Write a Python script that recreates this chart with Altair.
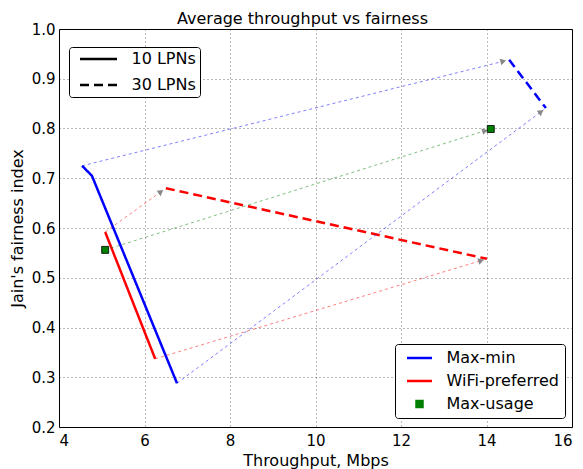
import math
import altair as alt
import pandas as pd

# ---------------- data ----------------
alg_names = ["Max-min", "WiFi-preferred", "Max-usage"]
alg_colors = ["#0000ff", "#ff0000", "#007f00"]
lpn_names = ["10 LPNs", "30 LPNs"]

maxmin_10_x = [4.54, 4.77, 6.76]
maxmin_10_y = [0.725, 0.705, 0.288]
maxmin_30_x = [14.53, 15.39]
maxmin_30_y = [0.938, 0.841]
wifi_10_x = [5.08, 6.25]
wifi_10_y = [0.592, 0.337]
wifi_30_x = [6.50, 14.01]
wifi_30_y = [0.680, 0.538]
maxusage_x = [5.08, 14.10]
maxusage_y = [0.556, 0.799]

# arrows: from the 10-LPN results to the 30-LPN results
arrow_alg = ["Max-min", "Max-min", "WiFi-preferred", "WiFi-preferred", "Max-usage"]
arrow_x0 = [4.54, 6.76, 5.08, 6.25, 5.08]
arrow_y0 = [0.725, 0.288, 0.592, 0.337, 0.556]
arrow_x1 = [14.53, 15.39, 6.50, 14.01, 14.10]
arrow_y1 = [0.938, 0.841, 0.680, 0.538, 0.799]

x_ticks = [4, 6, 8, 10, 12, 14, 16]
y_ticks = [0.2, 0.3, 0.4, 0.5, 0.6, 0.7, 0.8, 0.9, 1.0]

# ---------------- layout ----------------
W, H = 513, 398
X_DOM, Y_DOM = [4, 16], [0.2, 1.0]
SX = W / (X_DOM[1] - X_DOM[0])
SY = H / (Y_DOM[1] - Y_DOM[0])
FONT = "DejaVu Sans"

rows = []
def add(alg, lpn, xs, ys):
    for i, (x, y) in enumerate(zip(xs, ys)):
        rows.append(dict(alg=alg, lpn=lpn, x=x, y=y, i=i))

add("Max-min", "10 LPNs", maxmin_10_x, maxmin_10_y)
add("Max-min", "30 LPNs", maxmin_30_x, maxmin_30_y)
add("WiFi-preferred", "10 LPNs", wifi_10_x, wifi_10_y)
add("WiFi-preferred", "30 LPNs", wifi_30_x, wifi_30_y)
lines_df = pd.DataFrame(rows)

pts_df = pd.DataFrame(dict(alg=["Max-usage"] * len(maxusage_x), x=maxusage_x, y=maxusage_y))

arows = []
for a, x0, y0, x1, y1 in zip(arrow_alg, arrow_x0, arrow_y0, arrow_x1, arrow_y1):
    dxp = (x1 - x0) * SX
    dyp = (y1 - y0) * SY
    L = math.hypot(dxp, dyp)
    ux, uy = dxp / L, dyp / L
    hx = x1 - 7 * ux / SX
    hy = y1 - 7 * uy / SY
    ang = math.degrees(math.atan2(dxp, dyp)) % 360
    arows.append(dict(alg=a, x0=x0, y0=y0, x1=x1 - 3 * ux / SX, y1=y1 - 3 * uy / SY,
                      hx=hx, hy=hy, ang=ang))
arrows_df = pd.DataFrame(arows)

xscale = alt.Scale(domain=X_DOM, nice=False, zero=False)
yscale = alt.Scale(domain=Y_DOM, nice=False, zero=False)
xaxis = alt.Axis(values=x_ticks, title="Throughput, Mbps", format="d", labelPadding=6,
                 titleY=33, titleBaseline="middle")
yaxis = alt.Axis(values=y_ticks, title="Jain's fairness index", format=".1f", labelPadding=4,
                 titleX=-42, titleBaseline="middle")

color_scale = alt.Scale(domain=alg_names, range=alg_colors)
# legend symbol paths (unit r = sqrt(size)/2 = 6 px)
line25 = "M-2.083,0H2.083"
line37 = "M-3.083,0H3.083"
square = "M-0.5,-0.5H0.5V0.5H-0.5Z"
shape_scale = alt.Scale(domain=alg_names, range=[line25, line25, square])

leg2 = dict(title=None, orient="none", legendX=336, legendY=315,
            symbolSize=144, symbolStrokeWidth=2.5, symbolOpacity=1, symbolOffset=10.5,
            labelFontSize=16, labelOffset=19, padding=6, rowPadding=7,
            strokeColor="black", fillColor="white", cornerRadius=3,
            labelFont=FONT, labelColor="black")

leg1 = dict(title=None, orient="none", legendX=10, legendY=18,
            symbolType=line37, symbolSize=144, symbolOffset=17.5,
            symbolStrokeWidth=2.5, symbolStrokeColor="black", symbolOpacity=1,
            labelFontSize=16, labelOffset=25, padding=4, rowPadding=10,
            strokeColor="black", fillColor="white", cornerRadius=3,
            labelFont=FONT, labelColor="black")

lines = alt.Chart(lines_df).mark_line(strokeWidth=2.5).encode(
    x=alt.X("x:Q", scale=xscale, axis=xaxis),
    y=alt.Y("y:Q", scale=yscale, axis=yaxis),
    color=alt.Color("alg:N", scale=color_scale, legend=alt.Legend(**leg2)),
    strokeDash=alt.StrokeDash("lpn:N", scale=alt.Scale(domain=lpn_names, range=[[1, 0], [9, 5]]),
                              legend=alt.Legend(**leg1)),
    order="i:Q",
)

arrows = alt.Chart(arrows_df).mark_rule(strokeWidth=1, strokeDash=[3, 3], opacity=0.5).encode(
    x=alt.X("x0:Q", scale=xscale, axis=xaxis),
    y=alt.Y("y0:Q", scale=yscale, axis=yaxis),
    x2="x1:Q", y2="y1:Q",
    color=alt.Color("alg:N", scale=color_scale, legend=alt.Legend(**leg2)),
)

heads = alt.Chart(arrows_df).mark_point(shape="triangle", filled=True, color="#888888",
                                        size=45, opacity=1).encode(
    x=alt.X("hx:Q", scale=xscale, axis=xaxis),
    y=alt.Y("hy:Q", scale=yscale, axis=yaxis),
    angle=alt.Angle("ang:Q", scale=None),
)

points = alt.Chart(pts_df).mark_point(filled=True, stroke="black", strokeWidth=0.8,
                                      size=196, opacity=1).encode(
    x=alt.X("x:Q", scale=xscale, axis=xaxis),
    y=alt.Y("y:Q", scale=yscale, axis=yaxis),
    color=alt.Color("alg:N", scale=color_scale, legend=alt.Legend(**leg2)),
    shape=alt.Shape("alg:N", scale=shape_scale, legend=alt.Legend(**leg2)),
)

chart = alt.layer(lines, arrows, heads, points).properties(
    width=W, height=H,
    autosize=alt.AutoSizeParams(type="none"),
    padding={"left": 59, "top": 29, "right": 11, "bottom": 42},
    title=alt.Title("Average throughput vs fairness", fontSize=16, fontWeight="normal",
                    font=FONT, color="black", offset=6, dx=-13, dy=11),
).configure_view(stroke="black", strokeWidth=1).configure_axis(
    labelFont=FONT, titleFont=FONT, labelFontSize=15, titleFontSize=16,
    labelColor="black", titleColor="black", titleFontWeight="normal",
    grid=True, gridColor="black", gridDash=[1, 3], gridWidth=0.7, gridOpacity=0.8,
    domain=False, ticks=False,
)

chart.save("out.html", embed_options={"renderer": "svg", "actions": False})
